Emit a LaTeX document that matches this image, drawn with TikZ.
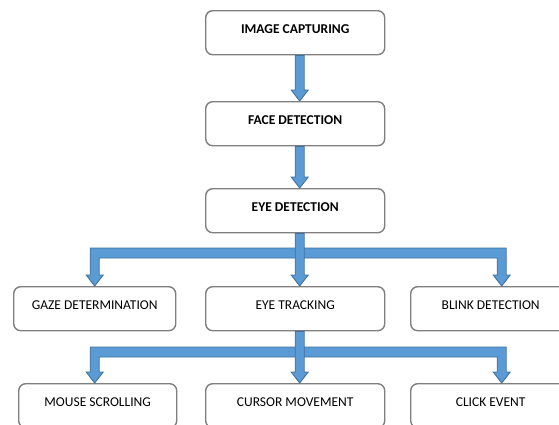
\documentclass[tikz,border=0pt]{standalone}
\usepackage{fontspec}
\setmainfont{Carlito}
\usetikzlibrary{calc}
\definecolor{arrfill}{HTML}{5B9BD5}
\definecolor{arrline}{HTML}{41719C}
\definecolor{boxline}{HTML}{7F7F7F}
\tikzset{
  box/.style={draw=boxline, line width=1.4pt, rounded corners=7pt, fill=white,
    anchor=north west, inner sep=0pt, text height=22.3pt, text depth=21.7pt,
    font=\fontsize{13.5}{16}\selectfont},
  boldbox/.style={box, font=\fontsize{13.5}{16}\selectfont\bfseries},
  arr/.style={draw=arrline, fill=arrfill, line width=0.9pt, line join=miter}
}
\newcommand\downarr[2]{%
  \draw[arr] ($(#1)+(-4.5,0)$) -- ($(#2)+(-4.5,-11)$) -- ($(#2)+(-8.5,-11)$) -- (#2)
    -- ($(#2)+(8.5,-11)$) -- ($(#2)+(4.5,-11)$) -- ($(#1)+(4.5,0)$) -- cycle;}
\newcommand\brancharr[3]{%
  \draw[arr] ($(#1)+(-4.5,-11)$) -- ($(#1)+(-8.5,-11)$) -- (#1) -- ($(#1)+(8.5,-11)$)
    -- ($(#1)+(4.5,-11)$) -- ($(#1|-#3)+(4.5,5)$) -- ($(#2|-#3)+(-4.5,5)$)
    -- ($(#2)+(-4.5,-11)$) -- ($(#2)+(-8.5,-11)$) -- (#2) -- ($(#2)+(8.5,-11)$)
    -- ($(#2)+(4.5,-11)$) -- ($(#2|-#3)+(4.5,-5)$) -- ($(#1|-#3)+(-4.5,-5)$) -- cycle;}
\begin{document}
\begin{tikzpicture}[x=1pt,y=-1pt]
\useasboundingbox (0,0) rectangle (559,424);
\node[boldbox, minimum width=179pt] (cap) at (205,10) {IMAGE CAPTURING};
\node[boldbox, minimum width=179pt] (face) at (205,101) {FACE DETECTION};
\node[boldbox, minimum width=179pt] (eye) at (205,188) {EYE DETECTION};
\node[box, minimum width=162pt] (gaze) at (13,286) {GAZE DETERMINATION};
\node[box, minimum width=179pt] (track) at (205,286) {EYE TRACKING};
\node[box, minimum width=160pt] (blink) at (410,286) {BLINK DETECTION};
\node[box, minimum width=158pt] (mouse) at (18,383) {MOUSE SCROLLING};
\node[box, minimum width=179pt] (cursor) at (205,383) {CURSOR MOVEMENT};
\node[box, minimum width=160pt] (click) at (410,383) {CLICK EVENT};
\coordinate (bar1) at (299,253);
\coordinate (bar2) at (299,352);
\path (gaze.north) coordinate (gL) ($(blink.north)+(11,0)$) coordinate (gR);
\path ($(mouse.north)+(-3,0)$) coordinate (mL) ($(click.north)+(11,0)$) coordinate (mR);
\coordinate (capS) at ($(cap.south)+(4.5,0)$);
\coordinate (faceN) at ($(face.north)+(4.5,0)$);
\coordinate (faceS) at ($(face.south)+(4.5,0)$);
\coordinate (eyeN) at ($(eye.north)+(4.5,0)$);
\coordinate (eyeS) at ($(eye.south)+(4.5,0)$);
\coordinate (trackN) at ($(track.north)+(4.5,0)$);
\coordinate (trackS) at ($(track.south)+(4.5,0)$);
\coordinate (cursorN) at ($(cursor.north)+(4.5,0)$);
\downarr{capS}{faceN}
\downarr{faceS}{eyeN}
\brancharr{gL}{gR}{bar1}
\downarr{eyeS}{trackN}
\brancharr{mL}{mR}{bar2}
\downarr{trackS}{cursorN}
\end{tikzpicture}
\end{document}
